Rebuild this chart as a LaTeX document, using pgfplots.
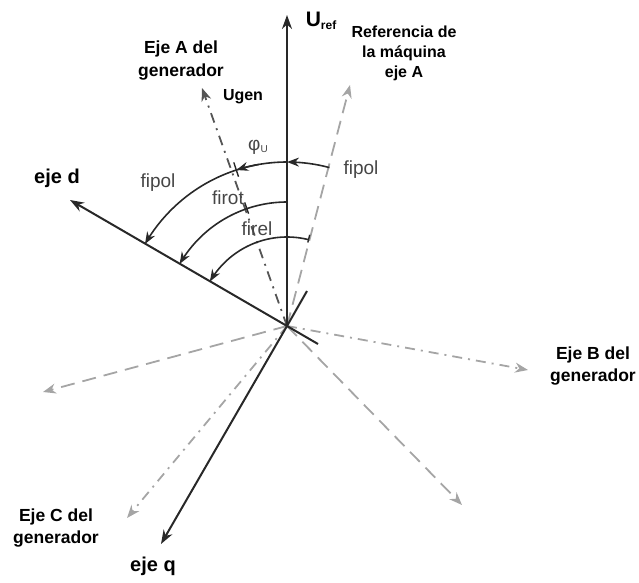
\documentclass[border=0pt]{standalone}
\usepackage{fontspec}
\setmainfont{Liberation Sans}
\usepackage{pgfplots}
\pgfplotsset{compat=1.18}
\usetikzlibrary{arrows.meta}
\definecolor{ink}{RGB}{40,40,40}
\definecolor{lgray}{RGB}{165,165,165}
\definecolor{mgray}{RGB}{85,85,85}
\definecolor{tgray}{RGB}{70,70,70}
\begin{document}
\begin{tikzpicture}
\begin{axis}[x=1pt,y=1pt,xmin=-287,xmax=352,ymin=-256,ymax=326,hide axis,clip=false,scale only axis]
% invisible frame that fixes the picture's extent
\addplot[draw=none,forget plot] coordinates {(-287,-256) (352,326)};
% --- gray dashed: reference machine axes
\addplot[lgray,line width=1.8pt,dash pattern=on 14pt off 8pt,-{Stealth[length=13pt,width=10pt]}] coordinates {(0,0) (63,241)};
\addplot[lgray,line width=1.8pt,dash pattern=on 14pt off 8pt,-{Stealth[length=13pt,width=10pt]}] coordinates {(0,0) (175,-179)};
\addplot[lgray,line width=1.8pt,dash pattern=on 14pt off 8pt,-{Stealth[length=13pt,width=10pt]}] coordinates {(0,0) (-244,-66)};
% --- gray dash-dot: generator B, C
\addplot[lgray,line width=1.8pt,dash pattern=on 10pt off 6pt on 2pt off 6pt,-{Stealth[length=13pt,width=10pt]}] coordinates {(0,0) (241,-44)};
\addplot[lgray,line width=1.8pt,dash pattern=on 10pt off 6pt on 2pt off 6pt,-{Stealth[length=13pt,width=10pt]}] coordinates {(0,0) (-160,-192)};
% --- Ugen (generator A)
\addplot[mgray,line width=1.8pt,dash pattern=on 10pt off 6pt on 2pt off 6pt,-{Stealth[length=13pt,width=10pt]}] coordinates {(0,0) (-85,238)};
% --- solid black axes
\addplot[ink,line width=2pt,-{Stealth[length=14pt,width=10pt]}] coordinates {(0,0) (0,311)};
\addplot[ink,line width=2pt,-{Stealth[length=14pt,width=10pt]}] coordinates {(0,0) (-217,126)};
\addplot[ink,line width=2pt,-{Stealth[length=14pt,width=10pt]}] coordinates {(0,0) (-126,-218)};
\addplot[ink,line width=2pt] coordinates {(0,0) (31,-18)};
\addplot[ink,line width=2pt] coordinates {(0,0) (20,35)};
% --- arcs
\addplot[ink,line width=1.6pt,domain=75:90,samples=20,-{Stealth[length=12pt,width=9pt]}] ({164*cos(x)},{164*sin(x)});
\addplot[ink,line width=1.6pt,domain=90:108,samples=20,-{Stealth[length=12pt,width=9pt]}] ({164*cos(x)},{164*sin(x)});
\addplot[ink,line width=1.6pt,domain=100:150,samples=50,-{Stealth[length=12pt,width=9pt]}] ({164*cos(x)},{164*sin(x)});
\addplot[ink,line width=1.6pt,domain=90:150,samples=50,-{Stealth[length=12pt,width=9pt]}] ({124*cos(x)},{124*sin(x)});
\addplot[ink,line width=1.6pt,domain=76:150,samples=60,-{Stealth[length=12pt,width=9pt]}] ({89*cos(x)},{89*sin(x)});
% --- small ticks
\addplot[ink,line width=1.4pt] coordinates {(-48.5,149.3) (-53.2,163.6)};
\addplot[ink,line width=1.4pt] coordinates {(-38.4,112.3) (-42.3,123.6)};
\addplot[ink,line width=1.4pt] coordinates {(20.8,83.5) (22.7,91.2)};
% --- labels
\node[font=\bfseries\fontsize{21}{21}\selectfont,inner sep=0pt] at (axis cs:34,305) {U{\fontsize{12}{12}\selectfont\raisebox{-3pt}{ref}}};
\node[font=\bfseries\fontsize{16}{20}\selectfont,align=center,inner sep=0pt] at (axis cs:117,273) {Referencia de\\la máquina\\eje A};
\node[font=\bfseries\fontsize{17.5}{23}\selectfont,align=center,inner sep=0pt] at (axis cs:-106,265) {Eje A del\\generador};
\node[font=\bfseries\fontsize{16}{16}\selectfont,inner sep=0pt] at (axis cs:-44,229) {Ugen};
\node[font=\bfseries\fontsize{20}{20}\selectfont,inner sep=0pt] at (axis cs:-230,148) {eje d};
\node[font=\bfseries\fontsize{17.5}{22}\selectfont,align=center,inner sep=0pt] at (axis cs:306,-40) {Eje B del\\generador};
\node[font=\bfseries\fontsize{17.5}{22}\selectfont,align=center,inner sep=0pt] at (axis cs:-231,-202) {Eje C del\\generador};
\node[font=\bfseries\fontsize{20}{20}\selectfont,inner sep=0pt] at (axis cs:-134,-240) {eje q};
\node[font=\fontsize{19}{19}\selectfont,text=tgray,inner sep=0pt] at (axis cs:74,156) {fipol};
\node[font=\fontsize{19}{19}\selectfont,text=tgray,inner sep=0pt] at (axis cs:-129,143) {fipol};
\node[font=\fontsize{19}{19}\selectfont,text=tgray,inner sep=0pt] at (axis cs:-59,128) {firot};
\node[font=\fontsize{19}{19}\selectfont,text=tgray,inner sep=0pt] at (axis cs:-30,97) {firel};
\node[font=\fontsize{19}{19}\selectfont,text=tgray,inner sep=0pt] at (axis cs:-29,179) {φ{\fontsize{10}{10}\selectfont\raisebox{-2pt}{U}}};
\end{axis}
\end{tikzpicture}
\end{document}
